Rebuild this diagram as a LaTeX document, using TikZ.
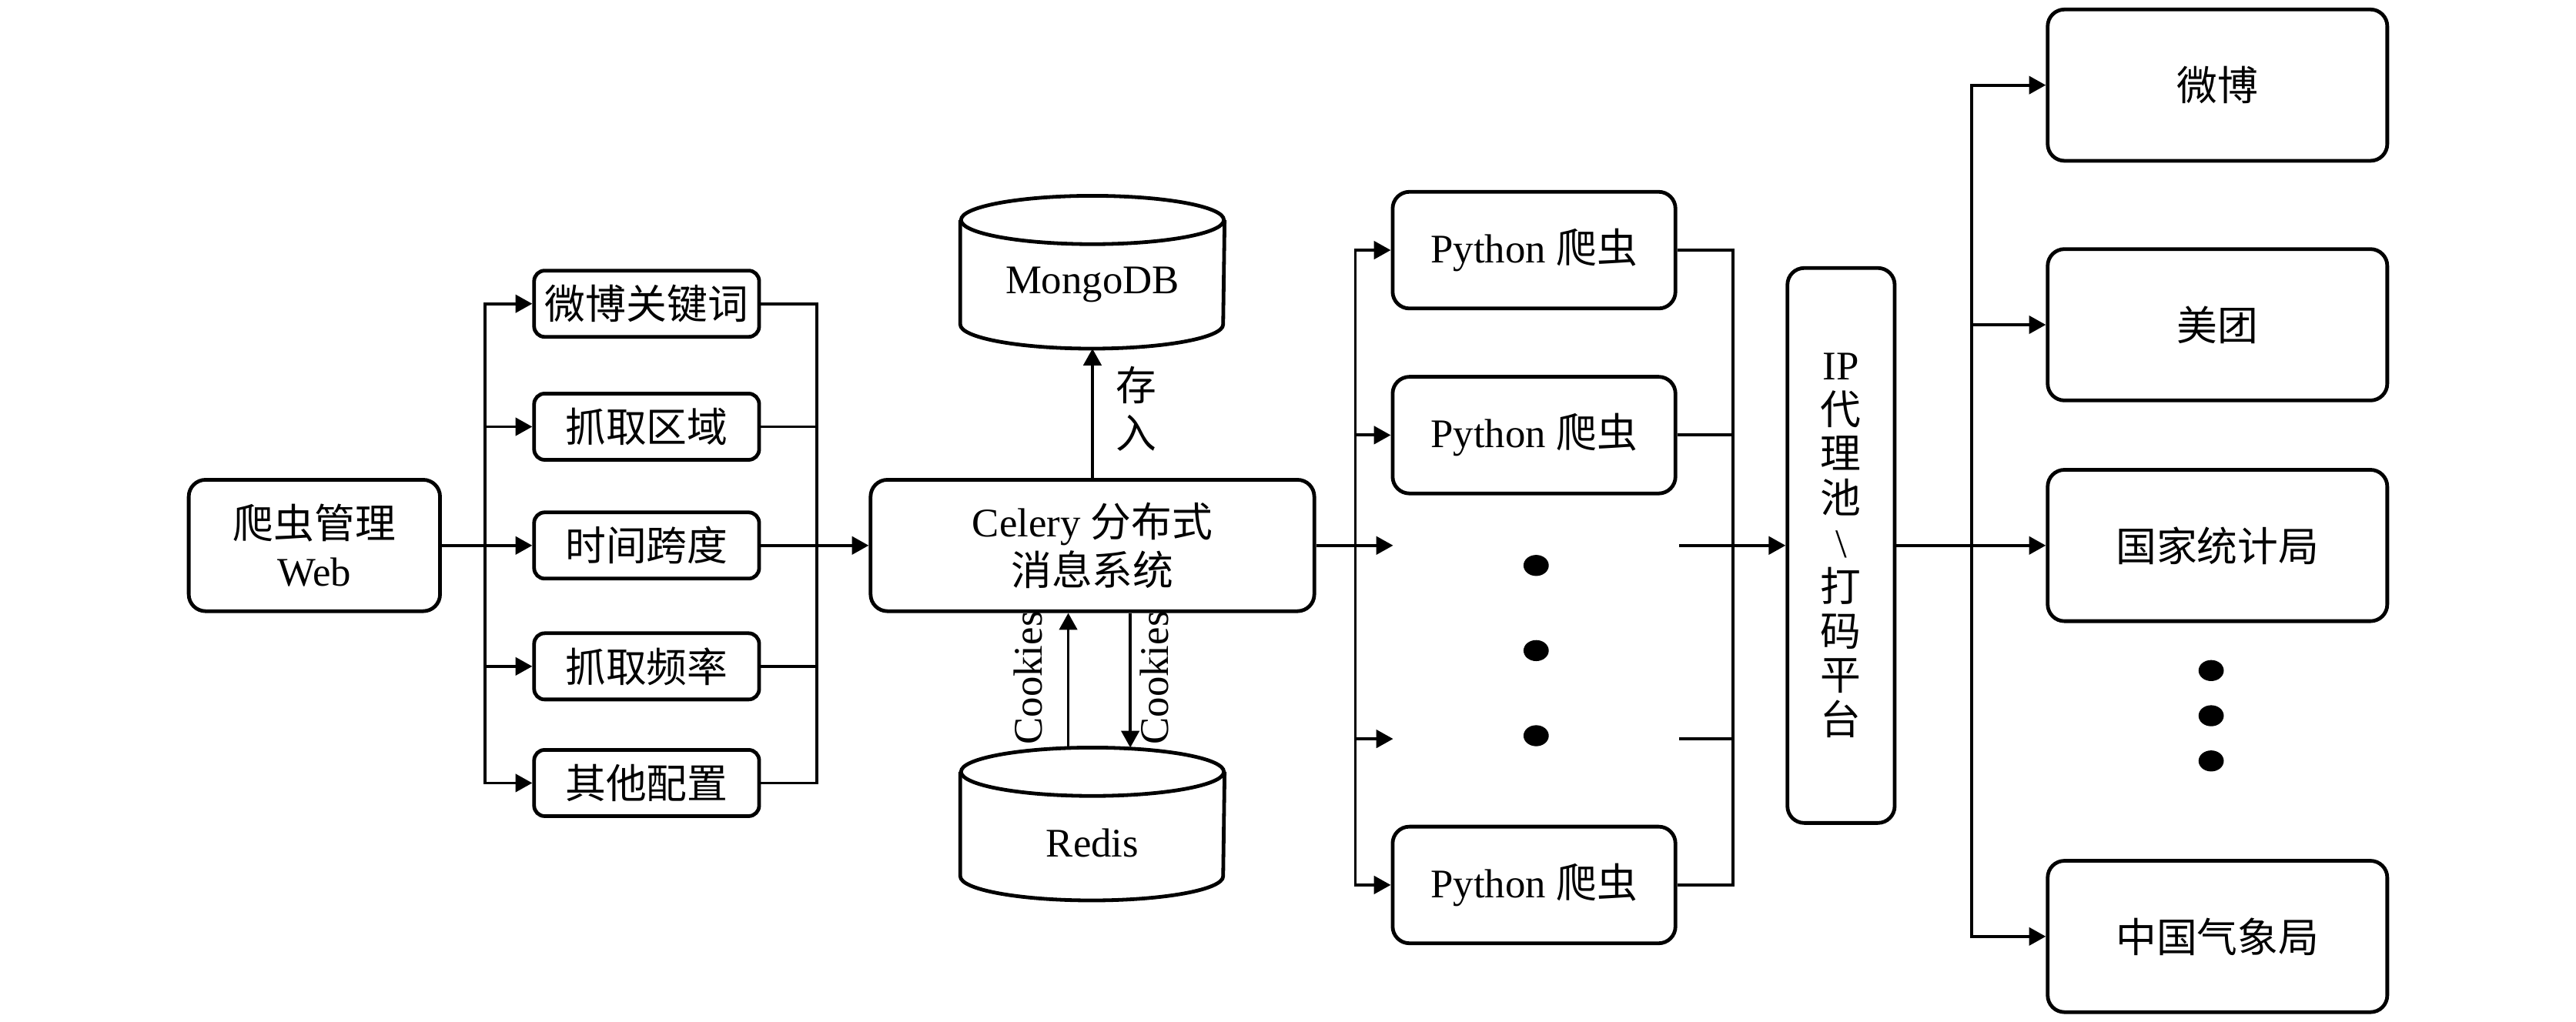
\documentclass[tikz,border=0pt]{standalone}
\usepackage{fontspec}
\setmainfont{Liberation Serif}
\newfontfamily\cjk{Noto Sans CJK SC}
\usetikzlibrary{arrows.meta}
\newcommand{\cylindre}[1]{%
  \draw[line width=1pt] ([yshift=-2.3mm]#1.north) ellipse (1.25 and 0.23);
  \draw[line width=1pt] ([yshift=-2.3mm]#1.north west) -- ([yshift=2.3mm]#1.south west)
    arc (180:360:1.25 and 0.23) -- ([yshift=-2.3mm]#1.north east);}

\begin{document}
\begin{tikzpicture}[font=\fontsize{11pt}{13pt}\selectfont,
    >={Triangle[length=1.6mm,width=1.7mm]},
    boite/.style={draw, line width=1pt, rounded corners=1.6mm, align=center, inner sep=0pt},
    petite/.style={boite, rounded corners=1mm, minimum width=2.14cm, minimum height=0.63cm},
    lien/.style={line width=0.8pt},
    fleche/.style={lien, ->},
    base/.style={minimum width=2.5cm, minimum height=1.44cm, inner sep=0pt}]
  \useasboundingbox (0,0) rectangle (24.5,9.72);

  \node[boite, minimum width=2.39cm, minimum height=1.25cm] (web) at (2.99,4.53) {{\cjk 爬虫管理}\\Web};
  \node[petite] (motscles) at (6.15,6.83) {\cjk 微博关键词};
  \node[petite] (zone) at (6.15,5.66) {\cjk 抓取区域};
  \node[petite] (duree) at (6.15,4.53) {\cjk 时间跨度};
  \node[petite] (freq) at (6.15,3.38) {\cjk 抓取频率};
  \node[petite] (autres) at (6.15,2.27) {\cjk 其他配置};
  \coordinate (busA) at (4.61,4.53);
  \coordinate (busB) at (7.77,4.53);
  \draw[lien] (web) -- (busA);
  \foreach \n in {motscles,zone,duree,freq,autres} {
    \draw[fleche] (busA) |- (\n.west);
    \draw[lien] (\n.east) -| (busB);
  }

  \node[boite, minimum width=4.22cm, minimum height=1.25cm] (celery) at (10.39,4.53) {Celery {\cjk 分布式}\\{\cjk 消息系统}};
  \draw[fleche] (busB) -- (celery);
  \node[base, label={[yshift=-1.2mm]center:MongoDB}] (mongo) at (10.39,7.13) {};
  \node[base, label={[yshift=-1.8mm]center:Redis}] (redis) at (10.39,1.88) {};
  \cylindre{mongo} \cylindre{redis}
  \draw[fleche] (celery) -- (mongo);
  \node[align=center] (stocker) at (10.81,5.83) {{\cjk 存}\\{\cjk 入}};
  \draw[fleche] ([xshift=-2.3mm]redis.north) -- ([xshift=-2.3mm]celery.south);
  \draw[fleche] ([xshift=3.6mm]celery.south) -- ([xshift=3.6mm]redis.north);
  \node[rotate=90] (cookiesA) at (9.78,3.27) {Cookies};
  \node[rotate=90] (cookiesB) at (10.98,3.27) {Cookies};

  \node[boite, minimum width=2.69cm, minimum height=1.11cm] (py1) at (14.59,7.34) {Python {\cjk 爬虫}};
  \node[boite, minimum width=2.69cm, minimum height=1.11cm] (py2) at (14.59,5.58) {Python {\cjk 爬虫}};
  \node[boite, minimum width=2.69cm, minimum height=1.11cm] (py3) at (14.59,1.30) {Python {\cjk 爬虫}};
  \coordinate (busC) at (12.89,4.53);
  \coordinate (busD) at (16.48,4.53);
  \coordinate (vide1w) at (13.25,4.53);
  \coordinate (vide1e) at (15.97,4.53);
  \coordinate (vide2w) at (13.25,2.69);
  \coordinate (vide2e) at (15.97,2.69);
  \draw[lien] (celery) -- (busC);
  \foreach \n in {py1,py2,py3} {
    \draw[fleche] (busC) |- (\n.west);
    \draw[lien] (\n.east) -| (busD);
  }
  \draw[fleche] (busC) |- (vide1w);
  \draw[fleche] (busC) |- (vide2w);
  \draw[lien] (vide1e) -| (busD);
  \draw[lien] (vide2e) -| (busD);
  \foreach \y in {4.34,3.53,2.72} \fill (14.61,\y) ellipse (0.12 and 0.1);

  \node[boite, minimum width=1.02cm, minimum height=5.28cm, font=\fontsize{11pt}{12pt}\selectfont] (ip) at (17.51,4.53)
    {IP\\{\cjk 代}\\{\cjk 理}\\{\cjk 池}\\\textbackslash\\{\cjk 打}\\{\cjk 码}\\{\cjk 平}\\{\cjk 台}};
  \draw[fleche] (busD) -- (ip);
  \coordinate (busE) at (18.75,4.53);
  \draw[lien] (ip) -- (busE);

  \node[boite, minimum width=3.23cm, minimum height=1.44cm] (weibo) at (21.09,8.91) {\cjk 微博};
  \node[boite, minimum width=3.23cm, minimum height=1.44cm] (meituan) at (21.09,6.63) {\cjk 美团};
  \node[boite, minimum width=3.23cm, minimum height=1.44cm] (stats) at (21.09,4.53) {\cjk 国家统计局};
  \node[boite, minimum width=3.23cm, minimum height=1.44cm] (meteo) at (21.09,0.81) {\cjk 中国气象局};
  \foreach \n in {weibo,meituan,stats,meteo}
    \draw[fleche] (busE) |- (\n.west);
  \foreach \y in {3.34,2.91,2.48} \fill (21.03,\y) ellipse (0.12 and 0.1);
\end{tikzpicture}
\end{document}
